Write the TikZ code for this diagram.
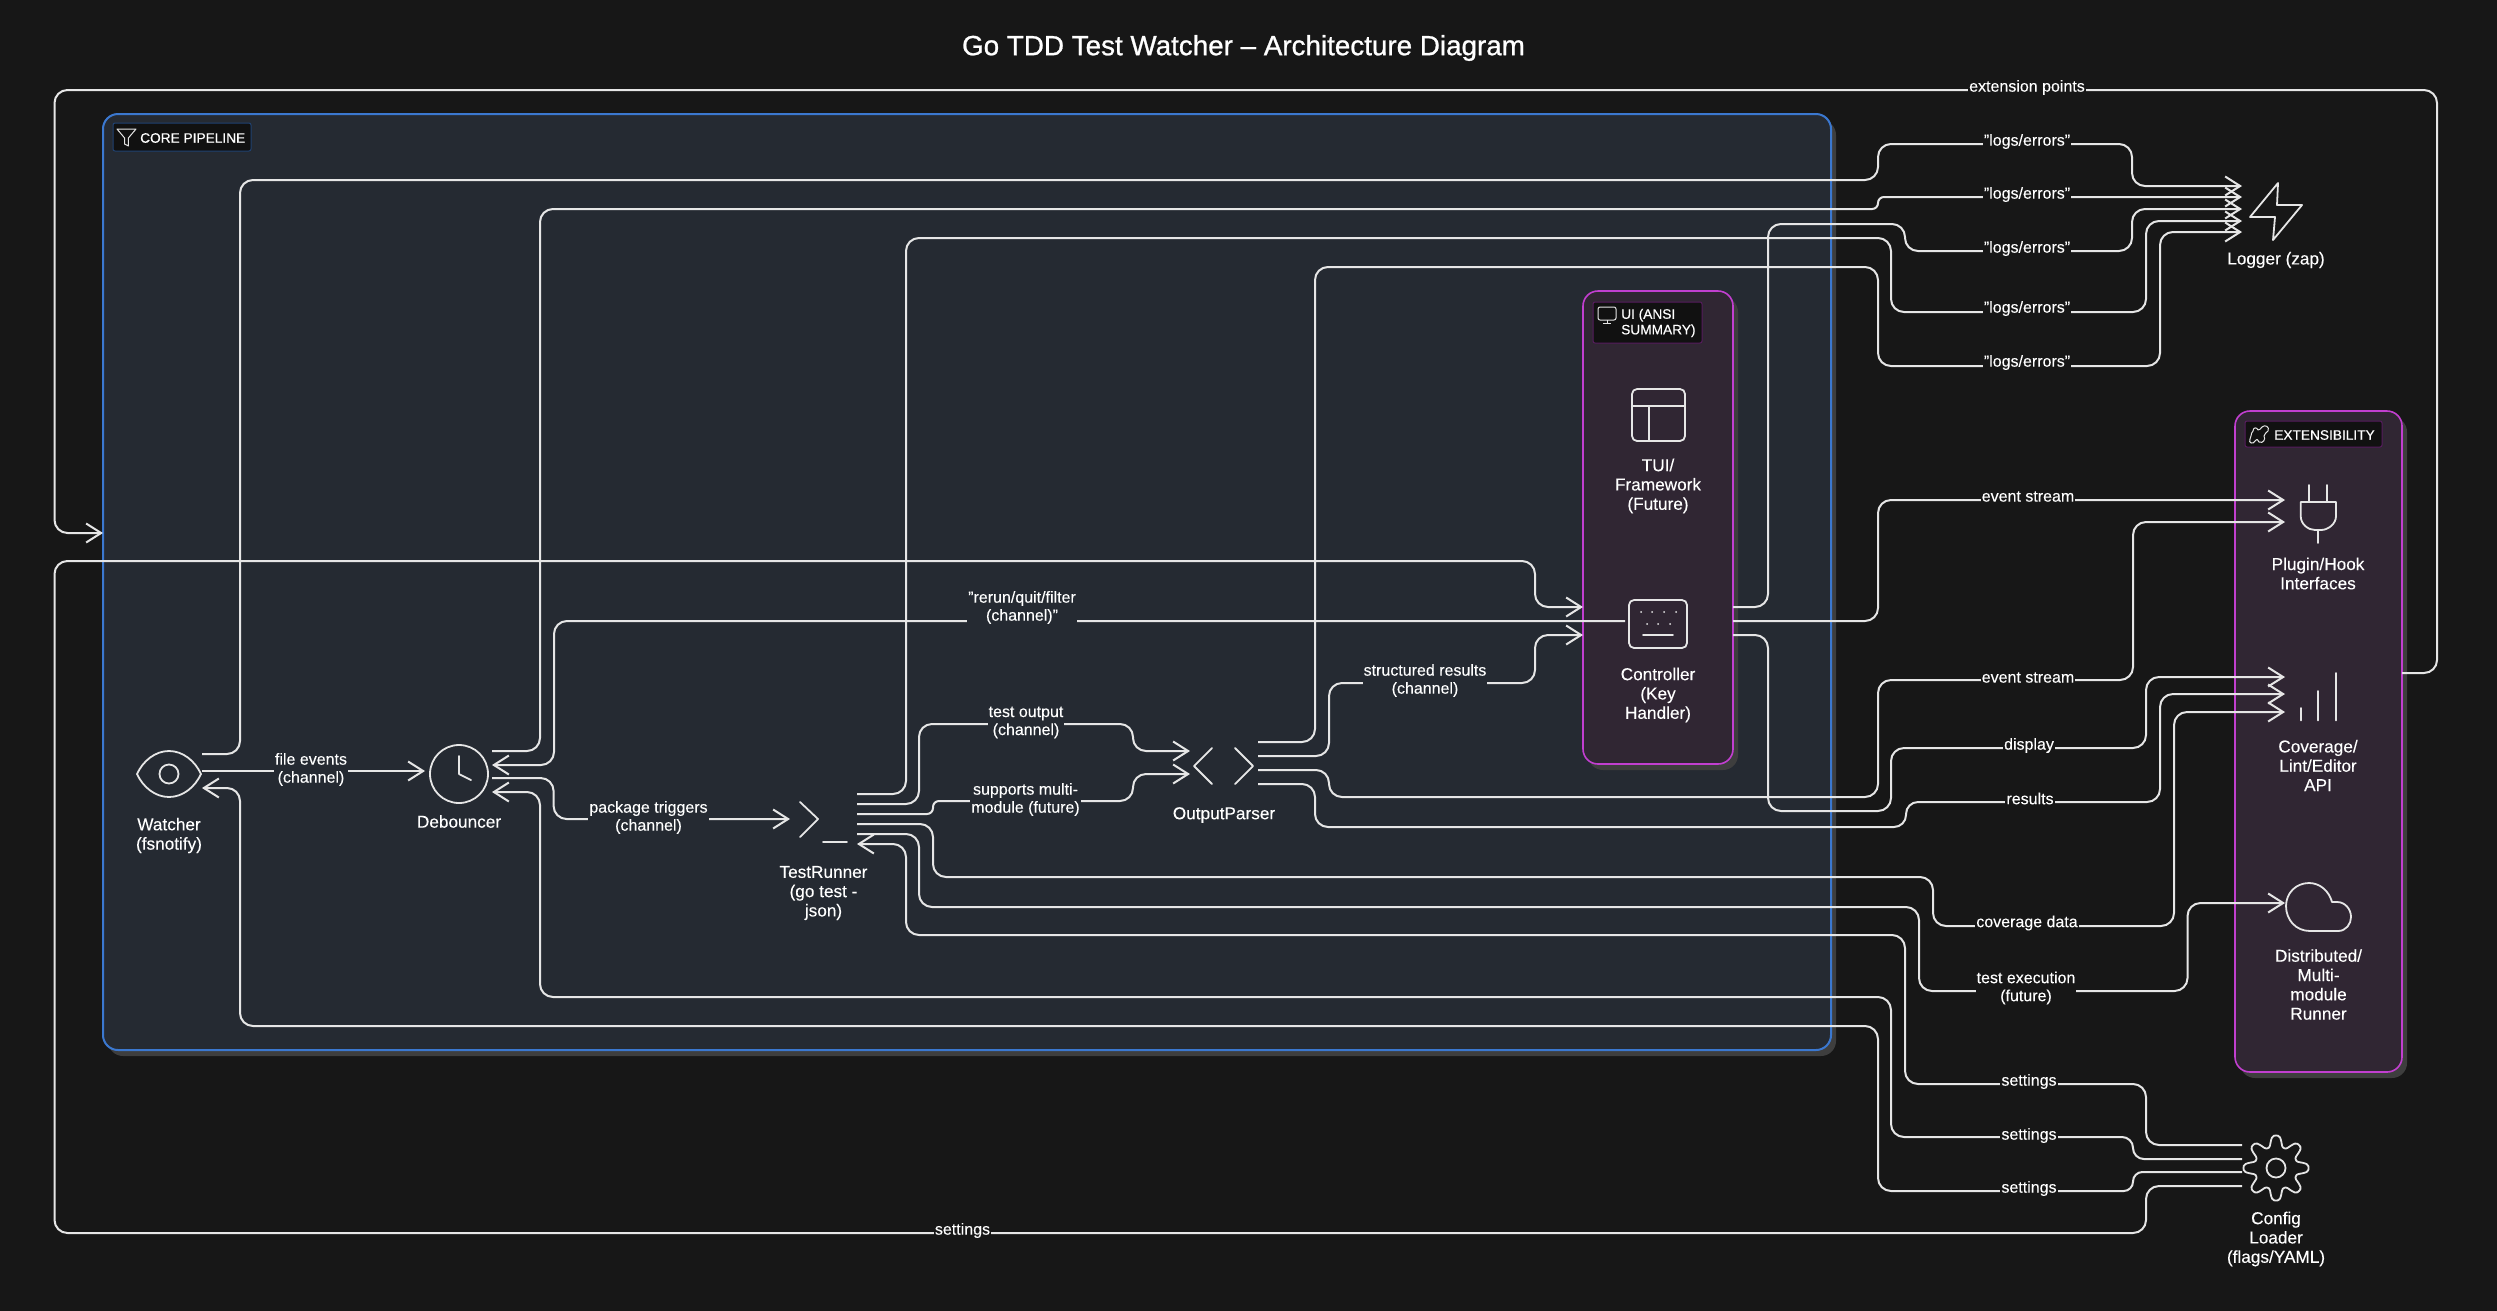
\documentclass[tikz,border=0pt]{standalone}
\usepackage{fontspec}
\setmainfont[FakeBold=0.12]{Liberation Sans}
\newfontfamily\heavyfont[FakeBold=0.45]{Liberation Sans}
\newfontfamily\titlefont[FakeBold=0.9]{Liberation Sans}
\usetikzlibrary{positioning, arrows.meta, shadows}
\definecolor{pagedark}{HTML}{171717}
\definecolor{corefill}{HTML}{252A32}
\definecolor{coreblue}{HTML}{3B78D0}
\definecolor{groupfill}{HTML}{302633}
\definecolor{groupedge}{HTML}{C23FD0}
\definecolor{shadowgrey}{HTML}{3E3E3E}
\definecolor{linegrey}{HTML}{E6E6E6}
\definecolor{tagfill}{HTML}{111111}
\tikzset{
    portbox/.style={minimum height=46pt,inner sep=0pt,outer sep=0pt},
    groupbox/.style={rounded corners=15pt,inner sep=0pt,outer sep=0pt,
        drop shadow={shadow xshift=5pt,shadow yshift=-6pt,fill=shadowgrey,opacity=1}},
    tagbox/.style={fill=tagfill,rounded corners=2pt,line width=1pt,inner sep=0pt},
    tagtext/.style={text=white,font=\heavyfont\fontsize{13.7}{15.6}\selectfont,inner sep=0pt,align=left},
    comptext/.style={text=white,font=\fontsize{17.2}{19.3}\selectfont,inner sep=0pt,align=center,yshift=-2pt},
    linktext/.style={text=white,font=\fontsize{16}{18}\selectfont,inner xsep=1pt,inner ysep=0pt,align=center,yshift=-1.5pt},
    corelabel/.style={linktext,fill=corefill},
    outerlabel/.style={linktext,fill=pagedark},
    iconline/.style={draw=linegrey,line width=1.8pt,line join=round,line cap=round},
    smallicon/.style={draw=linegrey,line width=1pt,line join=round},
    link/.style={draw=linegrey,line width=2pt,rounded corners=13pt},
    flow/.style={link,-{Straight Barb[length=15pt,width=19pt,line width=2pt]}}
}

\begin{document}
\begin{tikzpicture}[x=1pt,y=-1pt]

\useasboundingbox (0,0) rectangle (2497,1310);
\fill[pagedark] (-3,-3) rectangle (2500,1313);

\node[text=white,font=\titlefont\fontsize{27.8}{32}\selectfont,inner sep=0pt] (title) at (1243.5,48) {Go TDD Test Watcher – Architecture Diagram};

% Groups
\node[groupbox,line width=2pt,draw=coreblue,fill=corefill,minimum width=1728pt,minimum height=936pt] (core) at (967,582) {};
\node[groupbox,line width=1.6pt,draw=groupedge,fill=groupfill,minimum width=150pt,minimum height=473pt] (uigroup) at (1658,527.5) {};
\node[groupbox,line width=1.6pt,draw=groupedge,fill=groupfill,minimum width=167pt,minimum height=661pt] (extgroup) at (2318.5,741.5) {};

% Group tags
\node[tagbox,draw=coreblue!55!black,minimum width=138pt,minimum height=28pt] (coretag) at (182,137) {};
\node[tagtext,anchor=west] (coretext) at (140,138) {CORE PIPELINE};
\node[tagbox,draw=groupedge!45!black,minimum width=109pt,minimum height=41pt] (uitag) at (1647.5,322.5) {};
\node[tagtext,anchor=west] (uitext) at (1621,323) {UI (ANSI\\SUMMARY)};
\node[tagbox,draw=groupedge!45!black,minimum width=137pt,minimum height=26pt] (exttag) at (2313.5,434) {};
\node[tagtext,anchor=west] (exttext) at (2274,435) {EXTENSIBILITY};

% Tag icons
\draw[smallicon] (136,129) -- (117,129) -- (124.6,138) -- (124.6,144) -- (128.4,146) -- (128.4,138) -- cycle;
\draw[smallicon,rounded corners=2pt] (1598,307) rectangle (1616,320);
\draw[smallicon] (1607,320) -- (1607,323.5) (1603,323.5) -- (1611,323.5);
\draw[smallicon] (2253,431) .. controls (2253,427) and (2257,427) .. (2258,430) .. controls (2260,431) and (2260,428) .. (2262,427) .. controls (2265,424) and (2270,427) .. (2268,431) .. controls (2267,433) and (2264,433) .. (2264,436) .. controls (2266,439) and (2263,444) .. (2259,442) .. controls (2257,440) and (2258,438) .. (2255,441) .. controls (2253,445) and (2248,443) .. (2250,439) .. controls (2252,437) and (2250,434) .. (2253,431);

% Components
\node[portbox,minimum width=66pt] (watcher) at (169,771) {};
\node[portbox,minimum width=67pt] (debouncer) at (458.5,771) {};
\node[portbox,minimum width=67pt] (testrunner) at (823.5,819) {};
\node[portbox,minimum width=68pt] (parser) at (1224,763) {};
\node[portbox,minimum width=150pt] (controller) at (1658,621) {};
\node[portbox,minimum width=68pt] (logger) at (2276,209) {};
\node[portbox,minimum width=66pt] (plugin) at (2318,511) {};
\node[portbox,minimum width=66pt] (coverage) at (2318,694) {};
\node[portbox,minimum width=66pt] (runner) at (2318,903) {};
\node[portbox,minimum width=68pt] (config) at (2276,1165.5) {};

\node[comptext] (watchertext) at (169,833.5) {Watcher\\(fsnotify)};
\node[comptext] (debouncertext) at (459,819.5) {Debouncer};
\node[comptext] (runnertext) at (823.5,891) {TestRunner\\(go test -\\json)};
\node[comptext] (parsertext) at (1224,813) {OutputParser};
\node[comptext] (tuitext) at (1658,484) {TUI/\\Framework\\(Future)};
\node[comptext] (controllertext) at (1658,693) {Controller\\(Key\\Handler)};
\node[comptext] (loggertext) at (2276,258) {Logger (zap)};
\node[comptext] (plugintext) at (2318,571.5) {Plugin/Hook\\Interfaces};
\node[comptext] (coveragetext) at (2318,763.5) {Coverage/\\Lint/Editor\\API};
\node[comptext] (distributedtext) at (2318.5,982.5) {Distributed/\\Multi-\\module\\Runner};
\node[comptext] (configtext) at (2276,1237) {Config\\Loader\\(flags/YAML)};

% Icons
\draw[iconline] (137,774) .. controls (143,761) and (155,751) .. (169,751) .. controls (183,751) and (195,761) .. (201,774) .. controls (195,787) and (183,797) .. (169,797) .. controls (155,797) and (143,787) .. (137,774) -- cycle;
\draw[iconline] (169,774) circle (9.5);
\draw[iconline] (459,774) circle (29);
\draw[iconline] (459,756) -- (459,774) -- (471,780);
\draw[iconline] (800,802) -- (818,819) -- (800,837) (823,842) -- (847,842);
\draw[iconline] (1212,748) -- (1194,766) -- (1212,784) (1235,748) -- (1253,766) -- (1235,784);
\draw[iconline,rounded corners=5pt] (1632,389) rectangle (1685,441);
\draw[iconline] (1632,406) -- (1685,406) (1649,406) -- (1649,441);
\draw[iconline,rounded corners=5pt] (1629,600) rectangle (1687,648);
\foreach \x in {1641,1652,1664,1676} {
    \fill[linegrey] (\x,612) circle (1);
}
\foreach \x in {1647,1658,1670} {
    \fill[linegrey] (\x,624) circle (1);
}
\draw[iconline] (1643,635) -- (1673,635);
\draw[iconline] (2278,183) -- (2250,217) -- (2275,217) -- (2273,240) -- (2302,205) -- (2277,205) -- cycle;
\draw[iconline] (2309,485) -- (2309,502) (2327,485) -- (2327,502) (2318,530) -- (2318,543);
\draw[iconline] (2300.7,502) -- (2336,502) -- (2336,516) .. controls (2336,524) and (2328,530) .. (2321,530) -- (2315,530) .. controls (2308,530) and (2300.7,524) .. (2300.7,516) -- cycle;
\draw[iconline] (2301,708) -- (2301,720.5) (2318,691) -- (2318,720.5) (2335.6,673) -- (2335.6,720.5);
\draw[iconline] (2310,931) -- (2338,931) .. controls (2346,931) and (2351,924) .. (2351,917) .. controls (2351,909) and (2345,902) .. (2337,902) -- (2332,902) .. controls (2329,891) and (2320,883) .. (2309,883) .. controls (2296,883) and (2286,893) .. (2286,906) .. controls (2286,920) and (2296,931) .. (2310,931) -- cycle;
\draw[iconline] plot[smooth cycle,domain=0:356.25,samples=96,variable=\t] ({2276+(27+5.5*cos(8*\t)*(1.5-0.5*cos(8*\t)*cos(8*\t)))*cos(\t)},{1168+(27+5.5*cos(8*\t)*(1.5-0.5*cos(8*\t)*cos(8*\t)))*sin(\t)});
\draw[iconline] (2276,1168) circle (9.5);

% Pipeline links
\draw[flow] (watcher.east) -- (debouncer.west);
\draw[flow] ([yshift=-7pt]debouncer.east) -| (553.6,819) -- (testrunner.west);
\draw[flow] ([yshift=15pt]testrunner.east) -| (919,724) -| (1133,751) -- ([yshift=12pt]parser.west);
\draw[flow,rounded corners=6pt] ([yshift=5pt]testrunner.east) -| (933,801) -- (1100,801) [rounded corners=13pt] -| (1133,774) -- ([yshift=-11pt]parser.west);
\draw[flow] ([yshift=7pt]parser.east) -| (1329,683) -| (1535,635) -- ([yshift=-14pt]controller.west);
\draw[flow] ([xshift=42pt]controller.west) -| (554,765) -- ([yshift=6pt]debouncer.east);

% Logger links
\draw[flow] ([yshift=17pt]watcher.east) -| (240,180) -| (1878,144) -| (2132,186) -- ([yshift=23pt]logger.west);
\draw[flow] ([yshift=20pt]debouncer.east) -| (540,209) -- (1800,209) [rounded corners=5.9pt] -| (1878,197) -- ([yshift=12pt]logger.west);
\draw[flow] ([yshift=14pt]controller.east) -| (1768,224) -| (1905,251) -| (2132,209) -- (logger.west);
\draw[flow] ([yshift=25pt]testrunner.east) -| (906,238) -| (1891,312) -| (2146,221) -- ([yshift=-12pt]logger.west);
\draw[flow] ([yshift=21pt]parser.east) -| (1315,267) -| (1878,366) -| (2160,232) -- ([yshift=-23pt]logger.west);

% Extension links
\draw[flow] (controller.east) -| (1878,500) -- ([yshift=11pt]plugin.west);
\draw[flow] ([yshift=-7pt]parser.east) -| (1329,797) -| (1878,680) -| (2133,522) -- ([yshift=-11pt]plugin.west);
\draw[flow] ([yshift=-14pt]controller.east) -| (1768,811) -| (1891,748) -| (2146,677) -- ([yshift=17pt]coverage.west);
\draw[flow] ([yshift=-21pt]parser.east) -| (1315,827) -- (1800,827) [rounded corners=12pt] -| (1906,802) -- (2100,802) [rounded corners=13pt] -| (2160,694) -- (coverage.west);
\draw[flow] ([yshift=-5pt]testrunner.east) -| (933,877) -| (1933,926) -| (2174,712) -- ([yshift=-18pt]coverage.west);
\draw[flow] ([yshift=-15pt]testrunner.east) -| (919,907) -| (1919,991) -| (2187.5,903) -- (runner.west);
\draw[flow] ([yshift=68.5pt]extgroup.east) -| (2437,90) -| (54.5,533) -- ([yshift=49pt]core.west);

% Config links
\draw[flow] ([yshift=20.5pt]config.west) -| (2146,1084) -| (1905,935) -| (906,844) -- ([yshift=-25pt]testrunner.east);
\draw[flow,rounded corners=10.9pt] ([yshift=6.5pt]config.west) -| (2133,1137) -- (2000,1137) [rounded corners=13pt] -| (1891,997) -| (540,792) -- ([yshift=-21pt]debouncer.east);
\draw[flow,rounded corners=9.4pt] ([yshift=-6.5pt]config.west) -| (2133,1191) -- (2000,1191) [rounded corners=13pt] -| (1878,1026) -| (240,788) -- ([yshift=-17pt]watcher.east);
\draw[flow] ([yshift=-20.5pt]config.west) -| (2146,1233) -| (54.5,561) -| (1535,607) -- ([yshift=14pt]controller.west);

% Link labels
\node[corelabel] (filelabel) at (311,768) {file events\\(channel)};
\node[corelabel] (packagelabel) at (648.5,816) {package triggers\\(channel)};
\node[corelabel] (outputlabel) at (1026,721) {test output\\(channel)};
\node[corelabel] (moduleslabel) at (1025.5,798) {supports multi-\\module (future)};
\node[corelabel] (rerunlabel) at (1022,606) {"rerun/quit/filter\\(channel)"};
\node[corelabel] (resultslabel) at (1425,679) {structured results\\(channel)};
\node[outerlabel] (extensionlabel) at (2027,86) {extension points};
\foreach \n/\y in {a/140,b/193,c/247,d/307,e/361} {
    \node[outerlabel] (logs\n) at (2027,\y) {"logs/errors"};
}
\node[outerlabel] (eventa) at (2028,495) {event stream};
\node[outerlabel] (eventb) at (2028,676) {event stream};
\node[outerlabel] (displaylabel) at (2029,744) {display};
\node[outerlabel] (resultlabel) at (2030,797) {results};
\node[outerlabel] (coveragelabel) at (2027,921.5) {coverage data};
\node[outerlabel] (executionlabel) at (2026,986.5) {test execution\\(future)};
\foreach \n/\y in {a/1080,b/1134,c/1187} {
    \node[outerlabel] (settings\n) at (2029,\y) {settings};
}
\node[outerlabel] (settingsd) at (962.5,1229) {settings};

\end{tikzpicture}
\end{document}
